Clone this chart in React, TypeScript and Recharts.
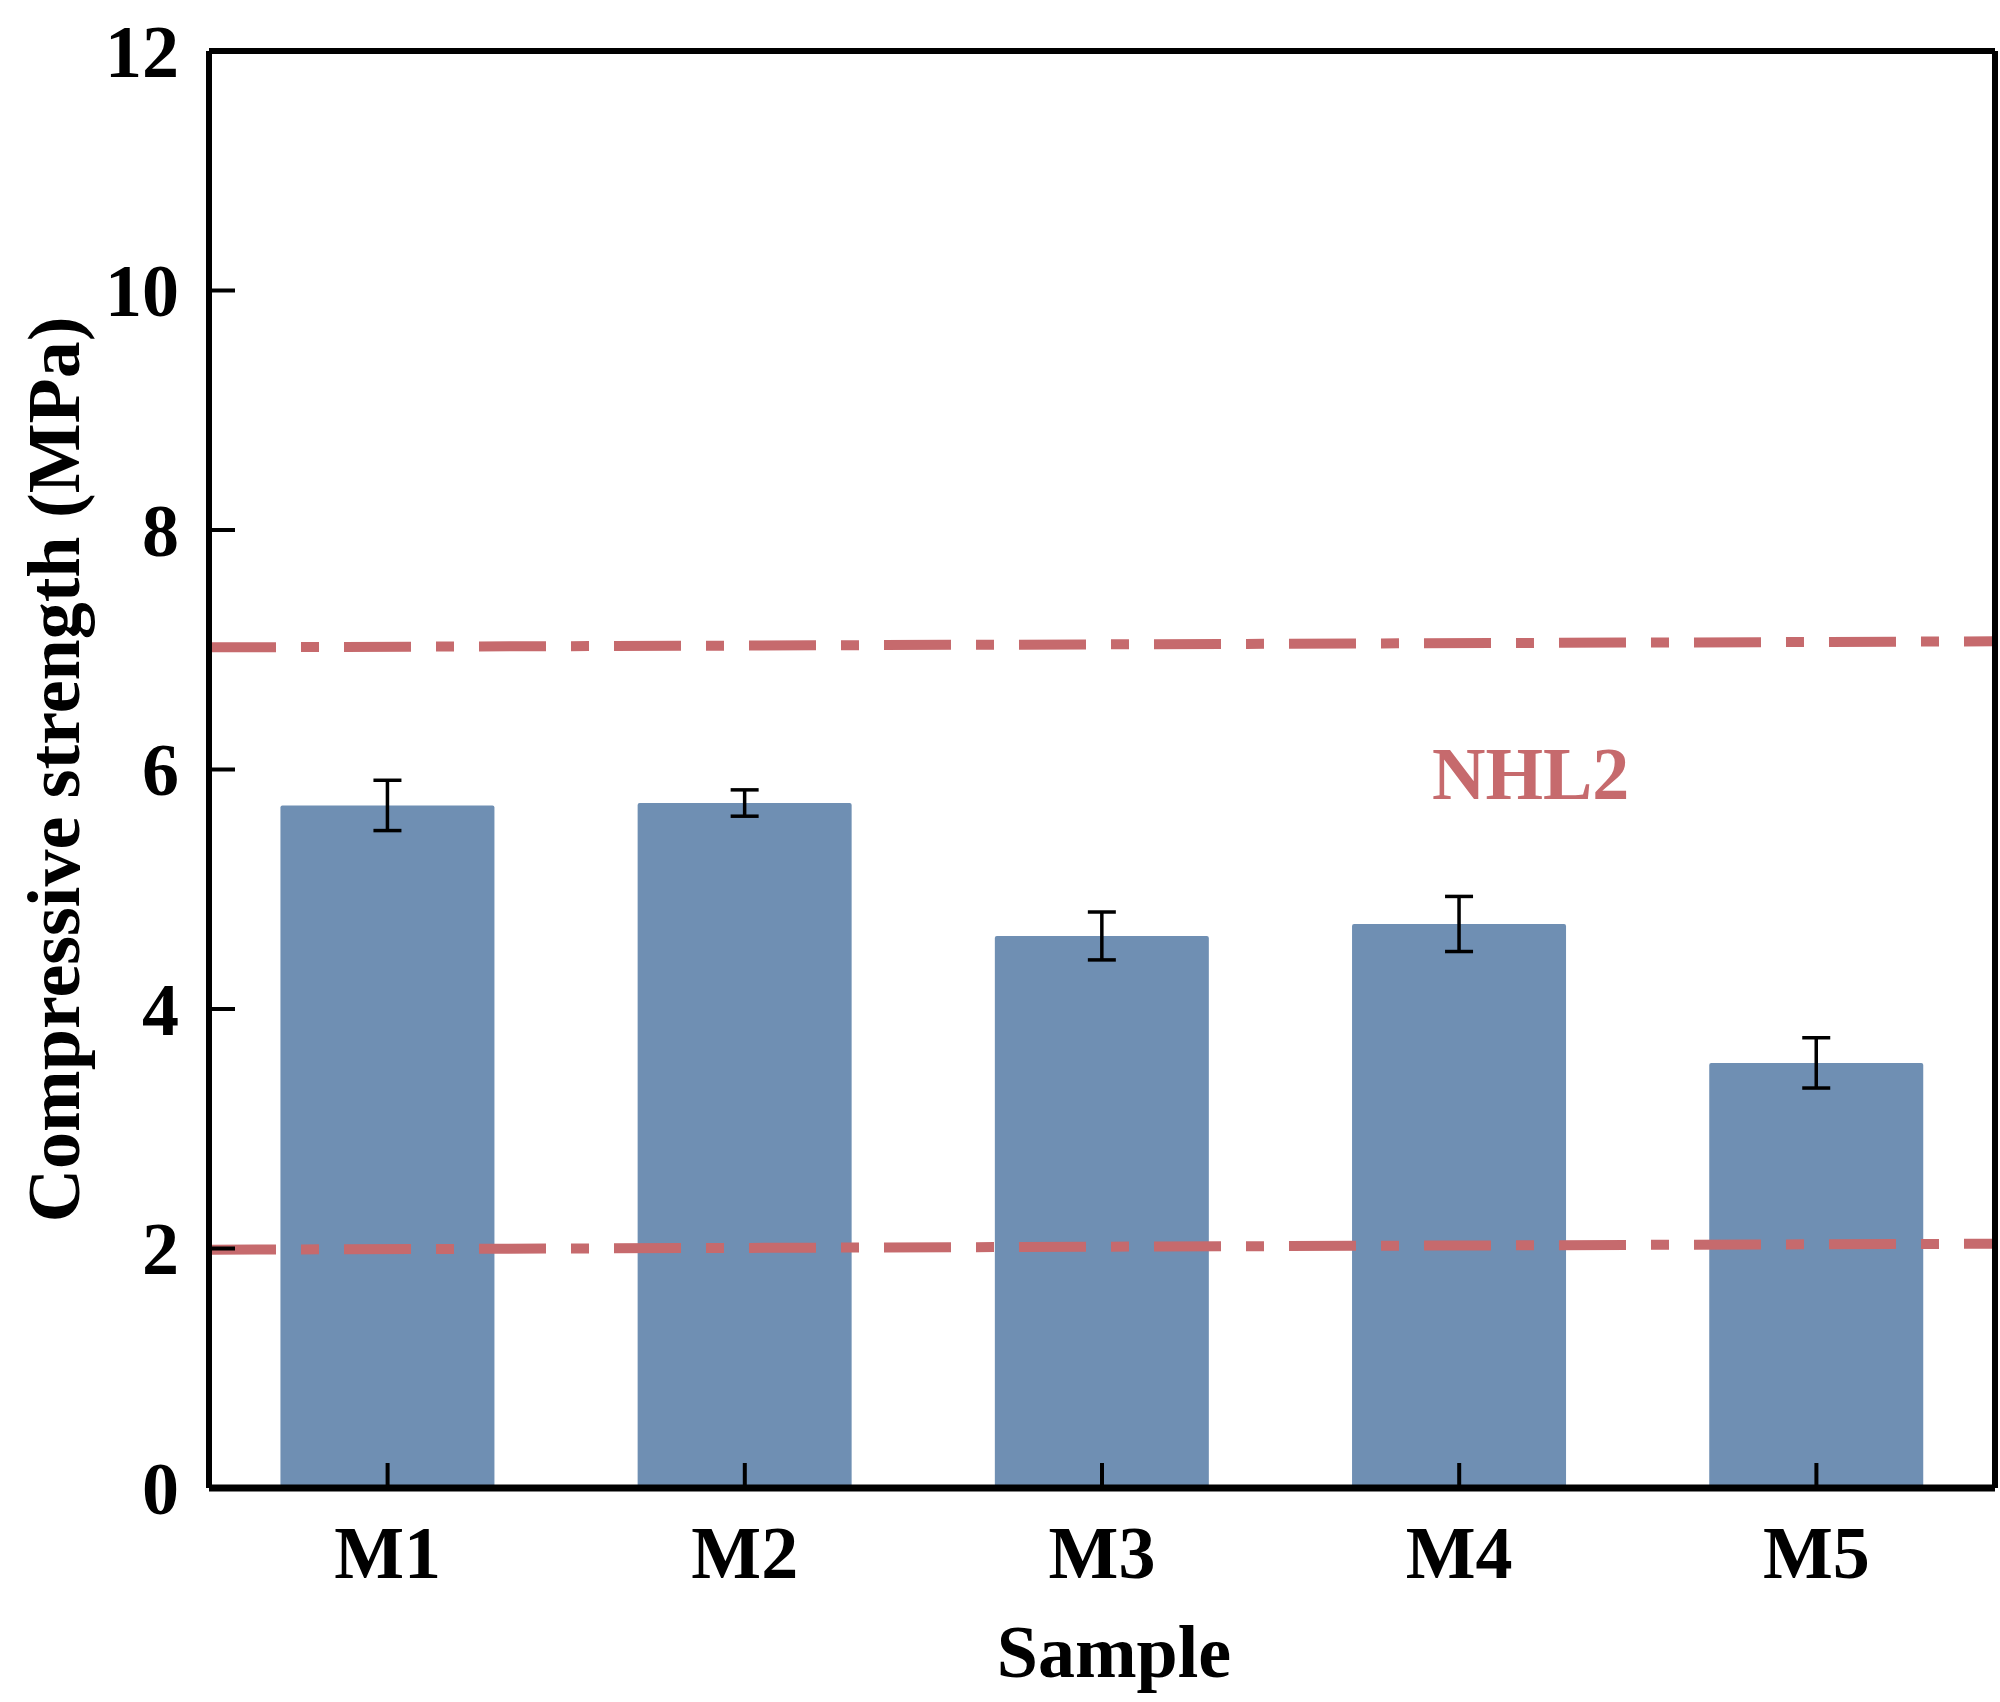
import React from 'react'
import { ComposedChart, Bar, ErrorBar, XAxis, YAxis, ReferenceLine, ReferenceDot } from 'recharts'

const samples = ['M1', 'M2', 'M3', 'M4', 'M5']
const strength = [5.7, 5.72, 4.61, 4.71, 3.55]
const strengthErr = [0.21, 0.11, 0.2, 0.23, 0.21]
const yTicks = [0, 2, 4, 6, 8, 10, 12]

// NHL2 limits, read at the left and right ends of the plot
const upperLimit = [7.02, 7.07]
const lowerLimit = [1.99, 2.04]

const data = samples.map((s, i) => ({ sample: s, value: strength[i], err: strengthErr[i] }))

const FONT = '"Liberation Serif", "Times New Roman", serif'
const BAR = '#6F8FB3'
const LIMIT = '#C66A6D'
const SPAN = 4

function XTick(props: any) {
  const { x, y, payload } = props
  return (
    <g>
      <line x1={x} y1={y} x2={x} y2={y - 25} stroke="#000" strokeWidth={4} />
      <text x={x} y={y + 90} textAnchor="middle" fontFamily={FONT} fontWeight="bold" fontSize={74} fill="#000">
        {payload.value}
      </text>
    </g>
  )
}

function YTick(props: any) {
  const { x, y, payload } = props
  return (
    <g>
      <line x1={x} y1={y} x2={x + 26} y2={y} stroke="#000" strokeWidth={4} />
      <text x={x - 30} y={y} dy="0.35em" textAnchor="end" fontFamily={FONT} fontWeight="bold" fontSize={74} fill="#000">
        {payload.value}
      </text>
    </g>
  )
}

function XTitle(props: any) {
  const vb = props.viewBox
  return (
    <text x={vb.x + vb.width / 2 + 12} y={vb.y + 189} textAnchor="middle" fontFamily={FONT} fontWeight="bold" fontSize={74} fill="#000">
      Sample
    </text>
  )
}

function YTitle(props: any) {
  const vb = props.viewBox
  const cx = 54
  const cy = vb.y + vb.height / 2
  return (
    <text
      x={cx}
      y={cy}
      transform={`rotate(-90, ${cx}, ${cy})`}
      textAnchor="middle"
      dominantBaseline="central"
      fontFamily={FONT}
      fontWeight="bold"
      fontSize={74}
      fill="#000"
    >
      Compressive strength (MPa)
    </text>
  )
}

export default function App() {
  return (
    <div style={{ position: 'absolute', left: 0, top: 0, background: '#fff' }}>
      <ComposedChart width={2000} height={1702} data={data} margin={{ top: 50, right: 4, bottom: 0, left: 0 }} barCategoryGap="20%">
        <XAxis
          dataKey="sample"
          height={214}
          tickSize={0}
          tickMargin={0}
          tick={<XTick />}
          axisLine={{ stroke: '#000', strokeWidth: 7 }}
          label={{ content: <XTitle /> }}
        />
        <XAxis
          xAxisId="top"
          type="number"
          orientation="top"
          domain={[0, SPAN]}
          allowDataOverflow
          height={1}
          tick={false}
          tickLine={false}
          axisLine={{ stroke: '#000', strokeWidth: 6 }}
        />
        <YAxis
          domain={[0, 12]}
          ticks={yTicks}
          width={209}
          tickSize={0}
          tickMargin={0}
          tick={<YTick />}
          axisLine={{ stroke: '#000', strokeWidth: 6 }}
          label={{ content: <YTitle /> }}
        />
        <YAxis
          yAxisId="right"
          orientation="right"
          domain={[0, 12]}
          width={1}
          tick={false}
          tickLine={false}
          axisLine={{ stroke: '#000', strokeWidth: 6 }}
        />
        <Bar dataKey="value" fill={BAR} radius={2} isAnimationActive={false}>
          <ErrorBar dataKey="err" width={14} stroke="#000" strokeWidth={3.5} isAnimationActive={false} />
        </Bar>
        <ReferenceLine
          xAxisId="top"
          segment={[{ x: 0, y: upperLimit[0] }, { x: SPAN, y: upperLimit[1] }]}
          stroke={LIMIT}
          strokeWidth={10}
          strokeDasharray="67 25 18 25"
        />
        <ReferenceLine
          xAxisId="top"
          segment={[{ x: 0, y: lowerLimit[0] }, { x: SPAN, y: lowerLimit[1] }]}
          stroke={LIMIT}
          strokeWidth={10}
          strokeDasharray="67 25 18 25"
        />
        <ReferenceDot
          xAxisId="top"
          x={0.74 * SPAN}
          y={5.97}
          r={0}
          fill="none"
          stroke="none"
          label={{ value: 'NHL2', position: 'center', fill: LIMIT, fontFamily: FONT, fontWeight: 'bold', fontSize: 74 }}
        />
      </ComposedChart>
    </div>
  )
}
